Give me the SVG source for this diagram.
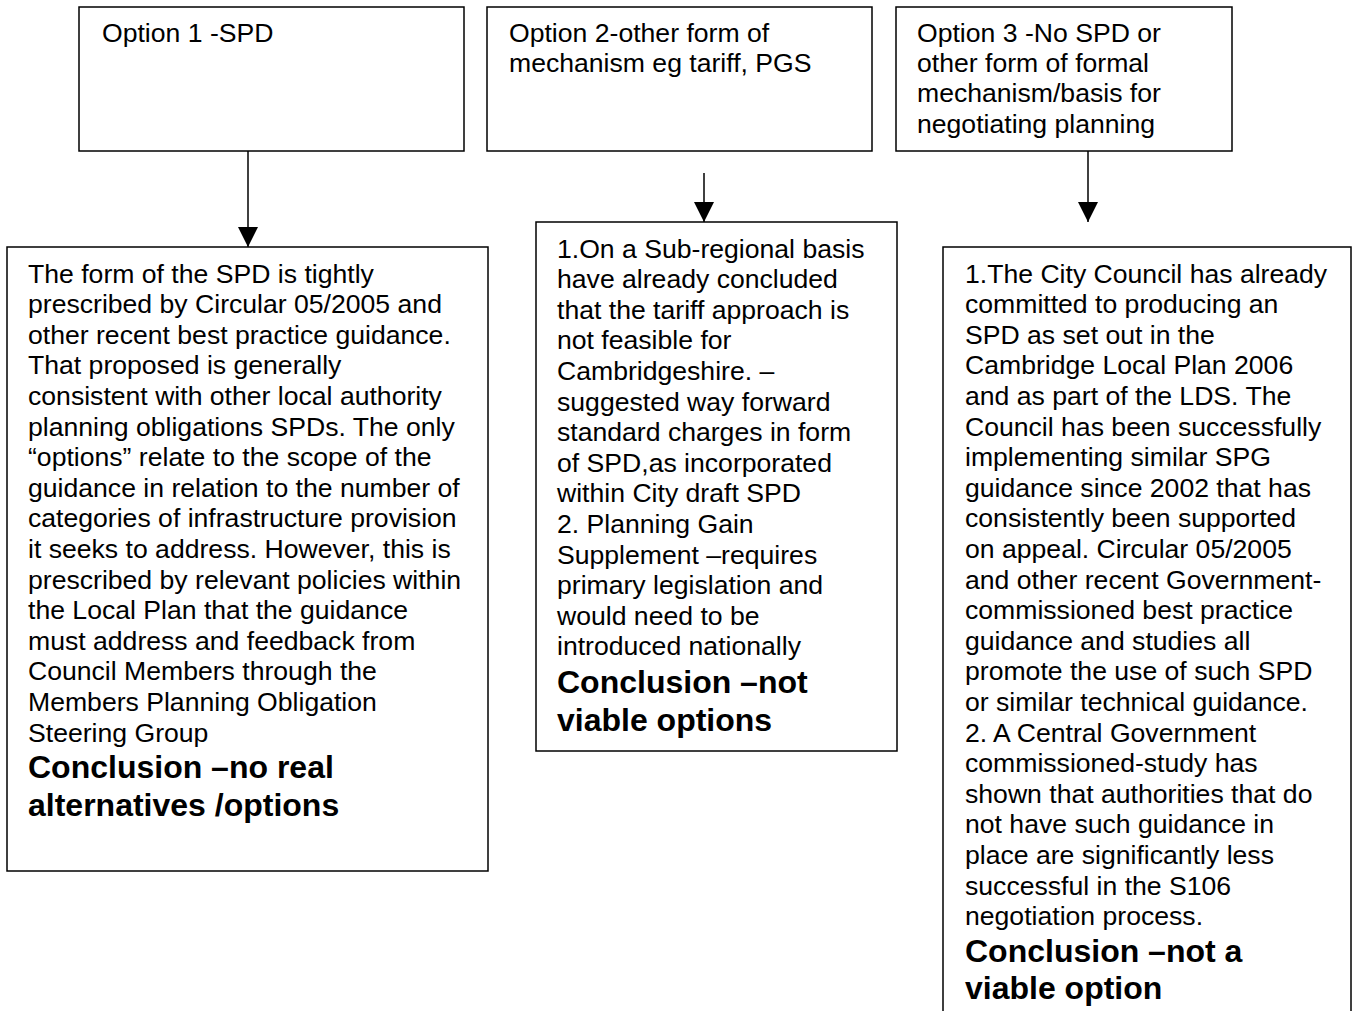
<svg xmlns="http://www.w3.org/2000/svg" width="1355" height="1011" viewBox="0 0 1355 1011">
<style>
.box{fill:#fff;stroke:#000;stroke-width:1.5}
.t{font-family:"Liberation Sans",Arial,sans-serif;font-size:26.6px;fill:#000}
.b{font-family:"Liberation Sans",Arial,sans-serif;font-size:32px;font-weight:bold;fill:#000}
.c{stroke:#000;stroke-width:1.5;fill:none}
</style>
<defs>
<marker id="ah" viewBox="0 0 20 20" refX="20" refY="10" markerWidth="20" markerHeight="20" markerUnits="userSpaceOnUse" orient="auto">
<path d="M0,0 L20,10 L0,20 Z" fill="#000"/>
</marker>
</defs>
<rect width="1355" height="1011" fill="#fff"/>
<g id="connectors">
<line class="c" x1="248" y1="151" x2="248" y2="247" marker-end="url(#ah)"/>
<line class="c" x1="704" y1="173" x2="704" y2="222" marker-end="url(#ah)"/>
<line class="c" x1="1088" y1="151" x2="1088" y2="222" marker-end="url(#ah)"/>
</g>
<g id="option1">
<rect class="box" x="79" y="7" width="385" height="144"/>
<text class="t" x="102" y="41.5">Option 1 -SPD</text>
</g>
<g id="option2">
<rect class="box" x="487" y="7" width="385" height="144"/>
<text class="t" x="509" y="41.5">Option 2-other form of</text>
<text class="t" x="509" y="71.9">mechanism eg tariff, PGS</text>
</g>
<g id="option3">
<rect class="box" x="896" y="7" width="336" height="144"/>
<text class="t" x="917" y="41.5">Option 3 -No SPD or</text>
<text class="t" x="917" y="71.9">other form of formal</text>
<text class="t" x="917" y="102.3">mechanism/basis for</text>
<text class="t" x="917" y="132.7">negotiating planning</text>
</g>
<g id="result1">
<rect class="box" x="7" y="247" width="481" height="624"/>
<text class="t" x="28" y="282.5">The form of the SPD is tightly</text>
<text class="t" x="28" y="313.1">prescribed by Circular 05/2005 and</text>
<text class="t" x="28" y="343.7">other recent best practice guidance.</text>
<text class="t" x="28" y="374.3">That proposed is generally</text>
<text class="t" x="28" y="404.9">consistent with other local authority</text>
<text class="t" x="28" y="435.5">planning obligations SPDs. The only</text>
<text class="t" x="28" y="466.1">“options” relate to the scope of the</text>
<text class="t" x="28" y="496.7">guidance in relation to the number of</text>
<text class="t" x="28" y="527.3">categories of infrastructure provision</text>
<text class="t" x="28" y="557.9">it seeks to address. However, this is</text>
<text class="t" x="28" y="588.5">prescribed by relevant policies within</text>
<text class="t" x="28" y="619.1">the Local Plan that the guidance</text>
<text class="t" x="28" y="649.7">must address and feedback from</text>
<text class="t" x="28" y="680.3">Council Members through the</text>
<text class="t" x="28" y="710.9">Members Planning Obligation</text>
<text class="t" x="28" y="741.5">Steering Group</text>
<text class="b" x="28" y="778">Conclusion –no real</text>
<text class="b" x="28" y="816">alternatives /options</text>
</g>
<g id="result2">
<rect class="box" x="536" y="222" width="361" height="529"/>
<text class="t" x="557" y="257.5">1.On a Sub-regional basis</text>
<text class="t" x="557" y="288.1">have already concluded</text>
<text class="t" x="557" y="318.7">that the tariff approach is</text>
<text class="t" x="557" y="349.3">not feasible for</text>
<text class="t" x="557" y="379.9">Cambridgeshire. –</text>
<text class="t" x="557" y="410.5">suggested way forward</text>
<text class="t" x="557" y="441.1">standard charges in form</text>
<text class="t" x="557" y="471.7">of SPD,as incorporated</text>
<text class="t" x="557" y="502.3">within City draft SPD</text>
<text class="t" x="557" y="532.9">2. Planning Gain</text>
<text class="t" x="557" y="563.5">Supplement –requires</text>
<text class="t" x="557" y="594.1">primary legislation and</text>
<text class="t" x="557" y="624.7">would need to be</text>
<text class="t" x="557" y="655.3">introduced nationally</text>
<text class="b" x="557" y="693">Conclusion –not</text>
<text class="b" x="557" y="731">viable options</text>
</g>
<g id="result3">
<rect class="box" x="943" y="247" width="408" height="780"/>
<text class="t" x="965" y="282.5">1.The City Council has already</text>
<text class="t" x="965" y="313.1">committed to producing an</text>
<text class="t" x="965" y="343.7">SPD as set out in the</text>
<text class="t" x="965" y="374.3">Cambridge Local Plan 2006</text>
<text class="t" x="965" y="404.9">and as part of the LDS. The</text>
<text class="t" x="965" y="435.5">Council has been successfully</text>
<text class="t" x="965" y="466.1">implementing similar SPG</text>
<text class="t" x="965" y="496.7">guidance since 2002 that has</text>
<text class="t" x="965" y="527.3">consistently been supported</text>
<text class="t" x="965" y="557.9">on appeal. Circular 05/2005</text>
<text class="t" x="965" y="588.5">and other recent Government-</text>
<text class="t" x="965" y="619.1">commissioned best practice</text>
<text class="t" x="965" y="649.7">guidance and studies all</text>
<text class="t" x="965" y="680.3">promote the use of such SPD</text>
<text class="t" x="965" y="710.9">or similar technical guidance.</text>
<text class="t" x="965" y="741.5">2. A Central Government</text>
<text class="t" x="965" y="772.1">commissioned-study has</text>
<text class="t" x="965" y="802.7">shown that authorities that do</text>
<text class="t" x="965" y="833.3">not have such guidance in</text>
<text class="t" x="965" y="863.9">place are significantly less</text>
<text class="t" x="965" y="894.5">successful in the S106</text>
<text class="t" x="965" y="925.1">negotiation process.</text>
<text class="b" x="965" y="962">Conclusion –not a</text>
<text class="b" x="965" y="999">viable option</text>
</g>
</svg>
